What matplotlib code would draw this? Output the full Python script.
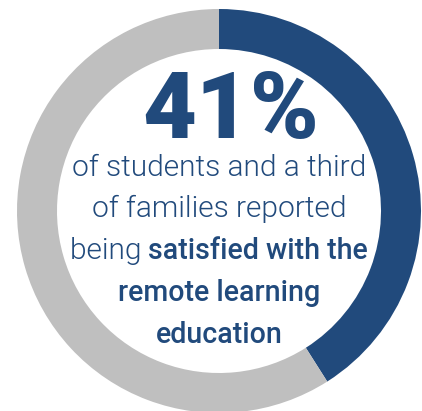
import matplotlib
matplotlib.use("Agg")
import matplotlib.pyplot as plt
from matplotlib import font_manager as fm

# share of students satisfied, rest of the ring
labels = ["satisfied", "other"]
shares = [41, 59]
colors = ["#214a7c", "#bfbfbf"]

headline = "41%"
plain_lines = ["of students and a third", "of families reported"]
mixed_prefix = "being "
bold_lines = ["satisfied with the", "remote learning", "education"]


def roboto(filename):
    for f in fm.fontManager.ttflist:
        if f.fname.endswith("/" + filename):
            return fm.FontProperties(fname=f.fname)
    return fm.FontProperties(family="Roboto")


light = roboto("Roboto-Light.ttf")
medium = roboto("Roboto-Medium.ttf")
black = roboto("Roboto-Black.ttf")

W, H = 422, 411
fig = plt.figure(figsize=(W / 100, H / 100), dpi=100)
ax = fig.add_axes([0, 0, 1, 1])

cx, cy = 219, H - 211
ax.pie(shares, colors=colors, startangle=90, counterclock=False,
       center=(cx, cy), radius=202,
       wedgeprops=dict(width=40, linewidth=0))
ax.set_xlim(0, W)
ax.set_ylim(0, H)
ax.set_aspect("equal")
ax.axis("off")

blue = "#214a7c"
ax.text(231, H - 138, headline, ha="center", va="baseline", fontsize=67,
        fontproperties=black, color=blue)

fs = 21.5
fs_med = 20.6
ax.text(cx, H - 176, plain_lines[0], ha="center", va="baseline",
        fontproperties=light, fontsize=fs, color=blue)
ax.text(cx, H - 217, plain_lines[1], ha="center", va="baseline",
        fontproperties=light, fontsize=fs, color=blue)

# mixed-weight line: measure both parts, then center them together
fig.canvas.draw()
r = fig.canvas.get_renderer()
t1 = ax.text(0, H - 259, mixed_prefix, ha="left", va="baseline",
             fontproperties=light, fontsize=fs, color=blue)
t2 = ax.text(0, H - 259, bold_lines[0], ha="left", va="baseline",
             fontproperties=medium, fontsize=fs_med, color=blue)
w1 = t1.get_window_extent(r).width
w2 = t2.get_window_extent(r).width
x0 = cx - (w1 + w2) / 2
t1.set_x(x0)
t2.set_x(x0 + w1)

ax.text(cx, H - 301, bold_lines[1], ha="center", va="baseline",
        fontproperties=medium, fontsize=fs_med, color=blue)
ax.text(cx, H - 343, bold_lines[2], ha="center", va="baseline",
        fontproperties=medium, fontsize=fs_med, color=blue)

fig.savefig("out.png", dpi=100)
